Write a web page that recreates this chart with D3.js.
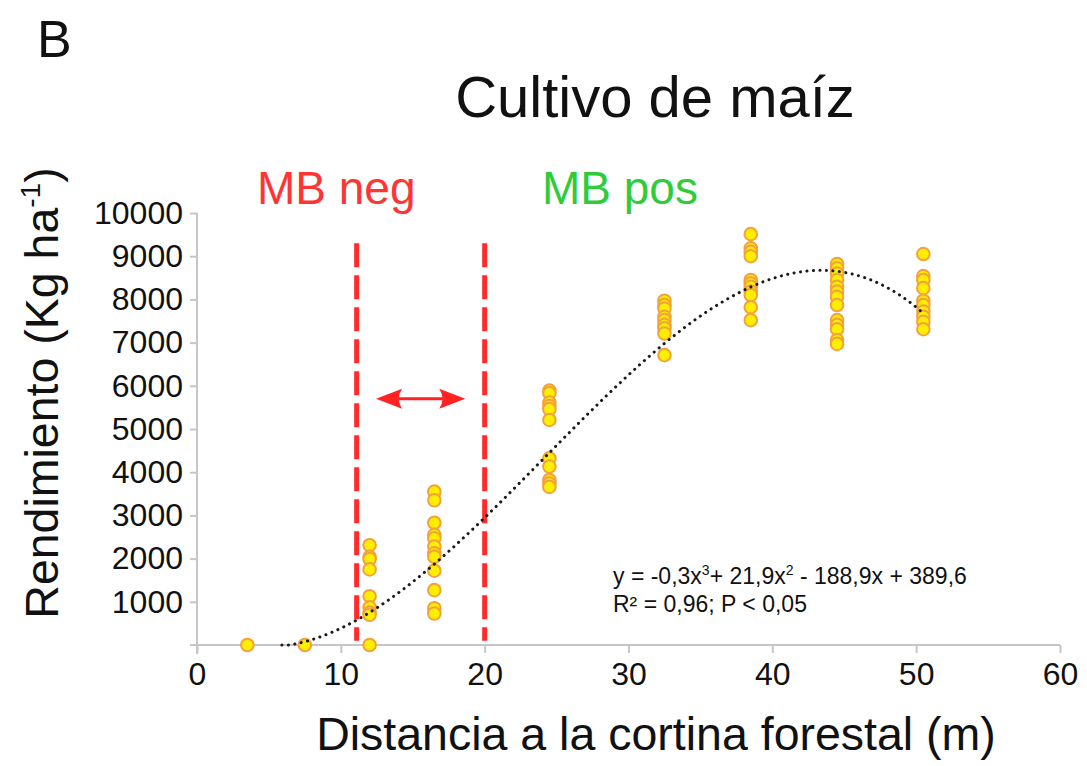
<!DOCTYPE html>
<html>
<head>
<meta charset="utf-8">
<script src="https://cdn.jsdelivr.net/npm/d3@7/dist/d3.min.js"></script>
<style>
  html, body { margin: 0; padding: 0; background: #fff; }
  svg { display: block; font-family: "Liberation Sans", Arial, Helvetica, sans-serif; }
</style>
</head>
<body>
<svg id="chart" width="1087" height="766"></svg>
<script>
// Distance from the windbreak (m) for each sampling row
const distances = [3.5, 7.5, 12, 16.5, 24.5, 32.5, 38.5, 44.5, 50.5];

// Maize yield (kg/ha) observed at each distance
const yields = [
  [0],
  [0],
  [2310, 2040, 1990, 1750, 1130, 870, 750, 700, 0],
  [3550, 3350, 2830, 2550, 2470, 2280, 2120, 2040, 1720, 1270, 850, 730],
  [5890, 5830, 5610, 5530, 5460, 5210, 4320, 4130, 3820, 3740, 3660],
  [7970, 7870, 7790, 7600, 7520, 7410, 7330, 7210, 6710],
  [9510, 9180, 9100, 9000, 8450, 8370, 8290, 8180, 8100, 7820, 7520],
  [8820, 8720, 8600, 8450, 8290, 8180, 8060, 7870, 7520, 7410, 7310, 7060, 6970],
  [9050, 8540, 8450, 8260, 7970, 7870, 7720, 7600, 7480, 7310]
];

// Cubic trend: y = a x^3 + b x^2 + c x + d (printed rounded to one decimal)
const trendCoef = [-0.303, 21.9, -188.9, 389.6];
const trendRange = [5.9, 50.5];

// Edge-effect band limits (m) and arrow span
const bandLimits = [11.1, 20];
const bandTop = 9300, bandBottom = 100;
const arrowSpan = [12.45, 18.65];
const arrowLevel = 5700;

// Axis ticks
const xTicks = [0, 10, 20, 30, 40, 50, 60];
const yTicks = [1000, 2000, 3000, 4000, 5000, 6000, 7000, 8000, 9000, 10000];

const svg = d3.select("#chart");
svg.append("rect").attr("width", 1087).attr("height", 766).attr("fill", "#fff");

const x = d3.scaleLinear().domain([0, 60]).range([197, 1060]);
const y = d3.scaleLinear().domain([0, 10000]).range([645, 213]);

const axisColor = "#c6c6c6";

// X axis
const gx = svg.append("g").attr("transform", `translate(0,${y(0)})`)
  .call(d3.axisBottom(x).tickValues(xTicks).tickSize(8).tickSizeOuter(0).tickPadding(9)
        .tickFormat(d3.format("d")));
gx.select(".domain").remove();
gx.selectAll(".tick line").attr("stroke", axisColor).attr("stroke-width", 2);
gx.selectAll(".tick text").attr("font-size", 32).attr("fill", "#111")
  .attr("font-family", "Liberation Sans, Arial, sans-serif");
svg.append("line").attr("x1", x(0) - 7).attr("x2", x(60)).attr("y1", y(0)).attr("y2", y(0))
  .attr("stroke", axisColor).attr("stroke-width", 2);

// Y axis
const gy = svg.append("g").attr("transform", `translate(${x(0)},0)`)
  .call(d3.axisLeft(y).tickValues(yTicks).tickSize(7).tickSizeOuter(0).tickPadding(7)
        .tickFormat(d3.format("d")));
gy.select(".domain").remove();
gy.selectAll(".tick line").attr("stroke", axisColor).attr("stroke-width", 2);
gy.selectAll(".tick text").attr("font-size", 32).attr("fill", "#111")
  .attr("font-family", "Liberation Sans, Arial, sans-serif");
svg.append("line").attr("x1", x(0)).attr("x2", x(0)).attr("y1", y(10000)).attr("y2", y(0) + 9)
  .attr("stroke", axisColor).attr("stroke-width", 2);

// Edge-effect band limits
svg.selectAll("line.band").data(bandLimits).join("line")
  .attr("class", "band")
  .attr("x1", d => x(d)).attr("x2", d => x(d))
  .attr("y1", y(bandTop)).attr("y2", y(bandBottom))
  .attr("stroke", "#ff2b2b").attr("stroke-width", 5)
  .attr("stroke-dasharray", "24 8");

// Double-headed arrow between the limits
(function () {
  const ax0 = x(arrowSpan[0]), ax1 = x(arrowSpan[1]), ay = y(arrowLevel);
  const head = 26, half = 10;
  svg.append("line").attr("x1", ax0 + head - 4).attr("x2", ax1 - head + 4)
    .attr("y1", ay).attr("y2", ay).attr("stroke", "#ff2222").attr("stroke-width", 3);
  const headPath = (tip, dir) => {
    const bx = tip + dir * head;
    return `M${tip},${ay} Q${tip + dir * head * 0.55},${ay - half * 0.55} ${bx},${ay - half}` +
           ` Q${tip + dir * head * 0.75},${ay} ${bx},${ay + half}` +
           ` Q${tip + dir * head * 0.55},${ay + half * 0.55} ${tip},${ay}Z`;
  };
  svg.append("path").attr("d", headPath(ax0, 1)).attr("fill", "#ff2222");
  svg.append("path").attr("d", headPath(ax1, -1)).attr("fill", "#ff2222");
})();

// Observations
const pts = [];
distances.forEach((d, i) => yields[i].forEach(v => pts.push({ d, v })));
svg.append("g").selectAll("circle").data(pts).join("circle")
  .attr("cx", p => x(p.d)).attr("cy", p => y(p.v)).attr("r", 6.3)
  .attr("fill", "#ffee00").attr("stroke", "#f2a23a").attr("stroke-width", 2);

// Trend curve
const poly = t => trendCoef[0] * t ** 3 + trendCoef[1] * t ** 2 + trendCoef[2] * t + trendCoef[3];
const curvePts = d3.range(trendRange[0], trendRange[1] + 0.001, 0.1).map(t => [t, Math.max(0, poly(t))]);
svg.append("path").datum(curvePts)
  .attr("d", d3.line().x(p => x(p[0])).y(p => y(p[1])).curve(d3.curveLinear))
  .attr("fill", "none").attr("stroke", "#1a1a1a").attr("stroke-width", 3)
  .attr("stroke-linecap", "round").attr("stroke-dasharray", "0.1 6.4");

// Titles and labels
svg.append("text").attr("x", 37).attr("y", 57).attr("font-size", 52).attr("fill", "#111").text("B");
svg.append("text").attr("x", 655).attr("y", 117).attr("text-anchor", "middle")
  .attr("font-size", 58).attr("fill", "#111").text("Cultivo de maíz");
svg.append("text").attr("x", 257).attr("y", 204).attr("font-size", 46).attr("fill", "#ff3535").text("MB neg");
svg.append("text").attr("x", 542).attr("y", 204).attr("font-size", 46).attr("fill", "#2fcc3a").text("MB pos");

svg.append("text").attr("x", 656).attr("y", 750).attr("text-anchor", "middle")
  .attr("font-size", 46.5).attr("fill", "#111").text("Distancia a la cortina forestal (m)");

const yt = svg.append("text").attr("transform", "translate(58,393) rotate(-90)")
  .attr("text-anchor", "middle").attr("font-size", 46.5).attr("fill", "#111");
yt.append("tspan").text("Rendimiento (Kg ha");
yt.append("tspan").attr("font-size", 28).attr("dy", -18).text("-1");
yt.append("tspan").attr("dy", 18).text(")");

// Regression equation
const eq = svg.append("text").attr("x", 613).attr("y", 584).attr("font-size", 23).attr("fill", "#111");
eq.append("tspan").text("y = -0,3x");
eq.append("tspan").attr("font-size", 14).attr("dy", -9).text("3");
eq.append("tspan").attr("dy", 9).text("+ 21,9x");
eq.append("tspan").attr("font-size", 14).attr("dy", -9).text("2");
eq.append("tspan").attr("dy", 9).text(" - 188,9x + 389,6");
svg.append("text").attr("x", 613).attr("y", 612).attr("font-size", 23).attr("fill", "#111")
  .text("R² = 0,96; P < 0,05");
</script>
</body>
</html>
